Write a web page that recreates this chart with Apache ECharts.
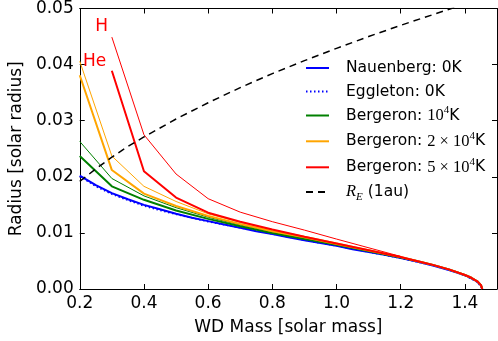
<!DOCTYPE html>
<html><head><meta charset="utf-8">
<script src="https://cdn.jsdelivr.net/npm/echarts@6/dist/echarts.min.js"></script>
<style>html,body{margin:0;padding:0;background:#fff}#c{width:498px;height:341px}</style>
</head><body><div id="c"></div>
<script>
// ---- data ----
const massN = [0.2,0.25,0.3,0.35,0.4,0.45,0.5,0.55,0.6,0.65,0.7,0.75,0.8,0.85,0.9,0.95,1.0,1.05,1.1,1.15,1.2,1.25,1.3,1.35,1.38,1.41,1.43,1.44,1.446,1.45,1.452,1.453,1.454];
const radNauenberg = [0.0202,0.0185,0.0171,0.0160,0.0150,0.0142,0.0134,0.0127,0.0121,0.0115,0.0109,0.0103,0.0098,0.0092,0.0087,0.0082,0.0077,0.0071,0.0066,0.0061,0.0055,0.0049,0.0042,0.0034,0.00285,0.0022,0.0016,0.0012,0.00093,0.00066,0.00046,0.00033,0];
const massE = [0.2,0.25,0.3,0.35,0.4,0.45,0.5,0.6,0.7,0.8,0.9,1.0,1.1,1.2,1.3,1.35,1.4,1.44,1.454];
const radEggleton = [0.0201,0.0183,0.0169,0.0158,0.0148,0.0140,0.0133,0.0120,0.0109,0.0098,0.0087,0.0077,0.0066,0.0055,0.0042,0.0034,0.0024,0.0012,0];
const massB = [0.2,0.3,0.4,0.5,0.6,0.7,0.8,0.9,1.0,1.2];
const greenHe  = [0.0237,0.0183,0.0159,0.0140,0.0125,0.0112,0.0100,0.0089,0.0079,0.0056];
const greenH   = [0.0263,0.0197,0.0166,0.0145,0.0128,0.0114,0.0102,0.0091,0.0080,0.0057];
const orangeHe = [0.0381,0.0212,0.0170,0.0148,0.0130,0.0116,0.0103,0.0092,0.0080,0.0057];
const orangeH  = [0.0406,0.0237,0.0183,0.0156,0.0134,0.0119,0.0105,0.0094,0.0082,0.0058];
const redHe    = [null,0.0389,0.0210,0.0163,0.0136,0.0120,0.0106,0.0093,0.0081,0.0057];
const redH     = [null,0.0449,0.0275,0.0205,0.0161,0.0137,0.0120,0.0105,0.0089,0.0058];
const massTail = [1.25,1.3,1.35,1.4,1.42,1.44,1.446,1.45,1.452,1.454];
const radTail  = [0.0050,0.0043,0.0035,0.0025,0.0020,0.0013,0.0010,0.0007,0.0005,0];
const massRE = [0.2,0.25,0.3,0.35,0.4,0.5,0.6,0.7,0.8,0.9,1.0,1.1,1.2,1.3,1.4,1.5];
const radRE  = [0.0192,0.0214,0.0235,0.0254,0.0271,0.0303,0.0332,0.0359,0.0384,0.0407,0.0429,0.0450,0.0470,0.0489,0.0508,0.0525];
const xTicks = {min:0.2, max:1.5, step:0.2};
const yTicks = {min:0, max:0.05, step:0.01};
const legendNames = ['Nauenberg: 0K','Eggleton: 0K','Bergeron: 1e4K','Bergeron: 2e4K','Bergeron: 5e4K','R_E (1au)'];
const legendCenters = [71, 94.5, 118.5, 144.3, 170.3, 195];

function pairs(xs, ys, tailX, tailY){
  const out = [];
  xs.forEach((x,i)=>{ if (ys[i] !== null) out.push([x, ys[i]]); });
  if (tailX) tailX.forEach((x,i)=>out.push([x, tailY[i]]));
  return out;
}
const FONT = 'DejaVu Sans';
function line(name, data, color, width, type, z){
  return {name, type:'line', data, symbol:'none', showSymbol:false, z: z||2, xAxisIndex:0, yAxisIndex:0,
    lineStyle:{color, width, type: type||'solid'}, itemStyle:{color}, clip:true, silent:true};
}
const richFmt = {
  'Nauenberg: 0K':'{sp| }{t|Nauenberg: 0K}',
  'Eggleton: 0K':'{sp| }{t|Eggleton: 0K}',
  'Bergeron: 1e4K':'{sp| }{t|Bergeron: }{m|10}{sup|4}{t|K}',
  'Bergeron: 2e4K':'{sp| }{t|Bergeron: }{m|2 × 10}{sup|4}{t|K}',
  'Bergeron: 5e4K':'{sp| }{t|Bergeron: }{m|5 × 10}{sup|4}{t|K}',
  'R_E (1au)':'{sp| }{mi|R}{sub|E}{t| (1au)}'
};
const rich = {
  sp:{width:12, fontSize:10, lineHeight:16},
  t:{fontFamily:FONT, fontSize:15.5, lineHeight:16, color:'#000'},
  m:{fontFamily:'Liberation Serif', fontSize:16.5, lineHeight:16, color:'#000'},
  mi:{fontFamily:'Liberation Serif', fontStyle:'italic', fontSize:16.5, lineHeight:16, color:'#000'},
  sup:{fontFamily:'Liberation Serif', fontSize:11, lineHeight:6, padding:[0,0,10,0], color:'#000'},
  sub:{fontFamily:'Liberation Serif', fontStyle:'italic', fontSize:11, lineHeight:6, padding:[10,0,0,0], color:'#000'}
};
const LEG_H = 30;
const legends = legendNames.map((n,i)=>({
  data:[n], orient:'vertical', left:305, top:legendCenters[i]-LEG_H/2, padding:0,
  itemWidth:23, itemHeight:LEG_H, itemGap:0,
  itemStyle:{opacity:0},
  formatter:nm=>richFmt[nm],
  selectedMode:false,
  textStyle:{color:'#000', fontFamily:FONT, fontSize:15.5, lineHeight:16, rich}
}));
const axisCommon = {
  axisLine:{show:true, onZero:false, lineStyle:{color:'#000', width:1}},
  axisTick:{show:true, inside:true, length:5, lineStyle:{color:'#000', width:1}},
  splitLine:{show:false}
};
const chart = echarts.init(document.getElementById('c'), null, {renderer:'canvas'});
chart.setOption({
  animation:false,
  backgroundColor:'#fff',
  grid:{left:69, top:8, width:428, height:286, containLabel:false},
  xAxis:[
    Object.assign({type:'value', position:'bottom', min:xTicks.min, max:xTicks.max, interval:xTicks.step,
      name:'WD Mass [solar mass]', nameLocation:'middle', nameGap:30,
      nameTextStyle:{fontFamily:FONT, fontSize:17, color:'#000'},
      axisLabel:{formatter:v=>v.toFixed(1), showMaxLabel:false, fontFamily:FONT, fontSize:17, color:'#000', margin:6}}, axisCommon),
    Object.assign({type:'value', position:'top', min:xTicks.min, max:xTicks.max, interval:xTicks.step,
      axisLabel:{show:false}}, axisCommon)
  ],
  yAxis:[
    Object.assign({type:'value', position:'left', min:yTicks.min, max:yTicks.max, interval:yTicks.step,
      name:'Radius [solar radius]', nameLocation:'middle', nameGap:52, nameRotate:90,
      nameTextStyle:{fontFamily:FONT, fontSize:17, color:'#000'},
      axisLabel:{formatter:v=>v.toFixed(2), fontFamily:FONT, fontSize:17, color:'#000', margin:6}}, axisCommon),
    Object.assign({type:'value', position:'right', min:yTicks.min, max:yTicks.max, interval:yTicks.step,
      axisLabel:{show:false}}, axisCommon)
  ],
  legend:legends,
  graphic:[
    {type:'text', x:101.7, y:18, z:50, style:{text:'H', fill:'#ff0000', font:'17px "DejaVu Sans"', align:'center', verticalAlign:'top'}},
    {type:'text', x:94.7, y:53, z:50, style:{text:'He', fill:'#ff0000', font:'17px "DejaVu Sans"', align:'center', verticalAlign:'top'}}
  ],
  series:[
    line('Nauenberg: 0K', pairs(massN, radNauenberg), '#0000ff', 2, 'solid', 2),
    line('Eggleton: 0K', pairs(massE, radEggleton), '#0000ff', 1.5, [1.5,2.5], 3),
    line('Bergeron: 1e4K', pairs(massB, greenHe, massTail, radTail), '#008000', 2, 'solid', 4),
    line('Bergeron H 1e4K', pairs(massB, greenH), '#008000', 1, 'solid', 4),
    line('Bergeron: 2e4K', pairs(massB, orangeHe, massTail, radTail), '#ffa500', 2, 'solid', 5),
    line('Bergeron H 2e4K', pairs(massB, orangeH), '#ffa500', 1, 'solid', 5),
    line('Bergeron: 5e4K', pairs(massB, redHe, massTail, radTail), '#ff0000', 2, 'solid', 6),
    line('Bergeron H 5e4K', pairs(massB, redH), '#ff0000', 1, 'solid', 6),
    line('R_E (1au)', pairs(massRE, radRE), '#000000', 1.5, [7,5], 7)
  ]
});
</script></body></html>
